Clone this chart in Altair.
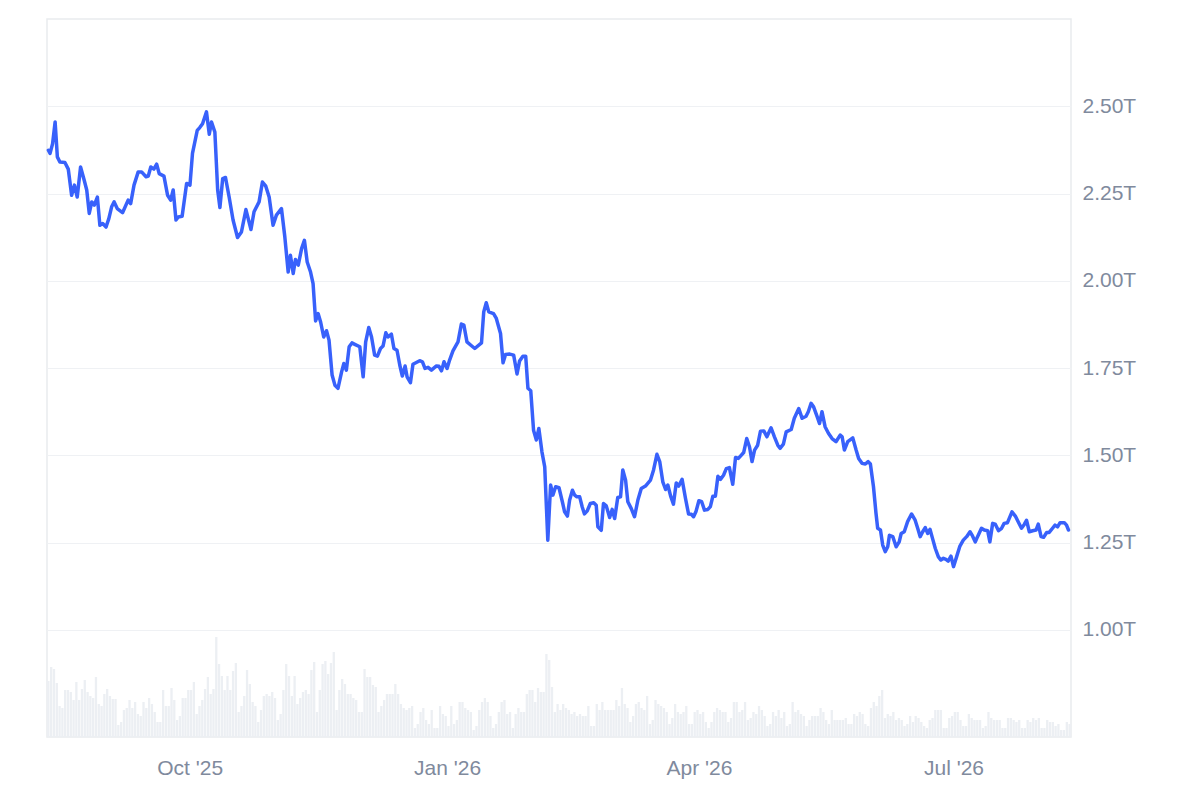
import altair as alt
import pandas as pd

# ---------------- data ----------------
start = pd.Timestamp("2025-08-11")

# day offsets from 2025-08-11 and market cap in trillions USD
line_days = [
    0.5, 1.1, 2.0, 2.9, 3.7, 4.6, 6.4, 7.6, 8.8, 9.8,
    10.8, 12.0, 13.3, 14.2, 15.1, 16.0, 16.9, 18.0, 18.9, 19.9,
    21.1, 22.1, 23.1, 24.0, 25.1, 27.0, 29.0, 29.9, 31.1, 32.6,
    33.8, 35.4, 36.2, 37.1, 38.2, 39.2, 40.1, 41.8, 43.1, 44.2,
    45.1, 46.1, 46.9, 48.3, 49.9, 51.1, 52.0, 53.7, 54.6, 55.6,
    57.0, 58.0, 58.8, 60.0, 61.0, 61.8, 62.8, 63.8, 65.1, 66.5,
    68.1, 69.5, 71.1, 72.9, 74.0, 75.8, 77.0, 78.2, 79.4, 80.8,
    82.0, 83.8, 85.0, 86.2, 87.0, 88.0, 88.8, 89.8,
    91.0, 92.0, 93.0, 94.2, 95.1, 96.0, 96.9, 97.8, 98.9, 99.9,
    100.8, 101.9, 102.9, 104.0, 105.3, 106.1, 107.0, 108.0, 109.0, 110.0,
    111.8, 113.0, 113.9, 115.0, 116.0, 117.1, 118.1, 119.2, 120.1, 121.1,
    121.9, 123.1, 124.0, 125.1, 126.1, 127.0, 128.0, 128.7, 129.9, 130.8,
    132.0, 133.2, 134.2, 135.1, 136.2, 137.4, 139.2, 140.1, 141.0, 141.9,
    143.0, 143.9, 145.1, 146.9, 148.1, 149.0, 150.1, 151.4, 152.9, 155.3,
    156.1, 157.0, 157.9, 159.6, 160.6, 162.1, 163.0, 163.9, 165.4, 166.8,
    168.0, 168.9, 170.1, 171.1, 171.9, 172.9, 173.9, 174.9, 175.8, 176.9,
    177.9, 179.0,
    180.0, 180.8, 181.8, 183.0, 184.2, 185.0, 186.0, 186.8, 187.8, 188.6,
    189.4, 190.4, 191.3, 192.1, 193.1, 194.2, 195.4, 196.3, 196.9, 198.1,
    198.9, 199.9, 201.1, 202.0, 202.9, 204.0, 205.0, 205.8, 206.8, 207.6,
    208.8, 210.0, 211.2, 212.4, 213.9, 215.7, 216.8, 218.0, 219.0, 220.1,
    221.1, 221.9, 222.9, 223.9, 224.9, 225.8, 227.0, 228.2, 229.3, 230.3,
    231.1, 232.0, 233.0, 234.0, 235.0, 236.2, 237.1, 238.0, 238.9, 239.8,
    240.7, 241.8, 242.8, 243.9, 245.1, 246.1, 247.1, 248.1, 249.0, 250.1,
    251.1, 252.0, 252.9, 254.0, 255.0, 256.2, 257.3, 258.8, 260.0, 261.2,
    262.0, 263.2, 264.2, 266.0, 267.1,
    268.7, 269.9, 271.3, 272.1, 273.1, 274.0, 275.3, 276.1, 277.0, 278.1,
    279.3, 280.6, 282.0, 283.5, 284.2, 285.0, 286.2, 288.0, 289.2, 290.1,
    291.3, 292.5, 293.5, 294.3, 295.4, 296.3, 296.9, 297.9, 298.7, 299.6,
    300.5, 301.1, 302.3, 303.5, 304.6, 305.3, 306.4, 307.6, 309.0, 310.3,
    311.2, 312.1, 313.0, 313.9, 314.8, 315.6, 316.5, 317.5, 318.6, 319.5,
    320.4, 321.3, 322.1, 323.1, 324.0, 325.1, 326.3, 327.5, 328.7, 329.9,
    330.8, 331.8, 332.6, 334.0, 335.0, 336.2, 337.0, 338.0, 338.9, 340.1,
    341.2, 342.1, 343.3, 344.9, 346.1, 347.3, 348.3, 349.3, 350.1, 351.1,
    352.3, 353.5, 354.3, 355.3, 356.2, 357.3, 358.2, 359.4, 360.3, 361.2,
    362.1, 363.6, 364.4, 365.1,
]

line_values = [
    2.374, 2.365, 2.393, 2.455, 2.355, 2.34, 2.339, 2.32, 2.245, 2.274,
    2.24, 2.326, 2.288, 2.26, 2.193, 2.226, 2.217, 2.24, 2.159, 2.164,
    2.154, 2.178, 2.212, 2.226, 2.207, 2.195, 2.231, 2.221, 2.274, 2.312,
    2.312, 2.298, 2.30, 2.326, 2.32, 2.334, 2.307, 2.30, 2.245, 2.231,
    2.26, 2.174, 2.183, 2.185, 2.279, 2.274, 2.365, 2.431, 2.439, 2.45,
    2.484, 2.42, 2.455, 2.426, 2.26, 2.21, 2.293, 2.296, 2.24, 2.174,
    2.124, 2.14, 2.204, 2.147, 2.198, 2.226, 2.283, 2.271, 2.24, 2.159,
    2.188, 2.207, 2.126, 2.025, 2.073, 2.021, 2.061, 2.045,
    2.092, 2.116, 2.054, 2.025, 1.992, 1.885, 1.906, 1.882, 1.839, 1.857,
    1.83, 1.73, 1.701, 1.692, 1.739, 1.763, 1.744, 1.811, 1.822, 1.818,
    1.811, 1.725, 1.825, 1.866, 1.839, 1.787, 1.784, 1.806, 1.813, 1.851,
    1.839, 1.847, 1.806, 1.801, 1.758, 1.727, 1.756, 1.725, 1.708, 1.761,
    1.766, 1.771, 1.768, 1.749, 1.752, 1.744, 1.756, 1.755, 1.742, 1.768,
    1.749, 1.773, 1.799, 1.825, 1.876, 1.873, 1.825, 1.816, 1.806, 1.822,
    1.911, 1.937, 1.911, 1.906, 1.892, 1.849, 1.765, 1.789, 1.79, 1.787,
    1.733, 1.77, 1.784, 1.784, 1.692, 1.685, 1.572, 1.544, 1.577, 1.51,
    1.467, 1.257,
    1.415, 1.386, 1.41, 1.407, 1.367, 1.338, 1.326, 1.372, 1.40, 1.386,
    1.381, 1.381, 1.352, 1.332, 1.341, 1.362, 1.364, 1.357, 1.295, 1.285,
    1.362, 1.355, 1.322, 1.345, 1.319, 1.379, 1.381, 1.458, 1.429, 1.367,
    1.348, 1.324, 1.372, 1.405, 1.412, 1.429, 1.458, 1.503, 1.482, 1.424,
    1.402, 1.415, 1.383, 1.36, 1.421, 1.412, 1.431, 1.377, 1.332, 1.331,
    1.324, 1.34, 1.37, 1.367, 1.343, 1.345, 1.353, 1.383, 1.383, 1.44,
    1.431, 1.443, 1.462, 1.465, 1.417, 1.494, 1.491, 1.50, 1.508, 1.548,
    1.524, 1.482, 1.515, 1.529, 1.569, 1.57, 1.553, 1.579, 1.553, 1.529,
    1.52, 1.532, 1.567, 1.574, 1.606,
    1.634, 1.606, 1.612, 1.625, 1.649, 1.639, 1.61, 1.591, 1.625, 1.582,
    1.563, 1.548, 1.539, 1.558, 1.553, 1.515, 1.539, 1.55, 1.515, 1.491,
    1.477, 1.475, 1.482, 1.475, 1.41, 1.334, 1.291, 1.286, 1.243, 1.224,
    1.238, 1.271, 1.267, 1.238, 1.252, 1.276, 1.281, 1.31, 1.332, 1.314,
    1.291, 1.267, 1.281, 1.293, 1.276, 1.288, 1.262, 1.233, 1.209, 1.20,
    1.205, 1.202, 1.197, 1.211, 1.181, 1.209, 1.24, 1.257, 1.267, 1.281,
    1.269, 1.252, 1.267, 1.291, 1.286, 1.284, 1.252, 1.305, 1.303, 1.284,
    1.291, 1.305, 1.307, 1.338, 1.326, 1.307, 1.291, 1.302, 1.314, 1.281,
    1.284, 1.286, 1.303, 1.267, 1.265, 1.279, 1.279, 1.291, 1.30, 1.295,
    1.307, 1.307, 1.30, 1.286,
]

# daily volume (relative units), one bar per day from 2025-08-11
volume_values = [
    56, 70, 68, 54, 31, 29, 47, 47, 45, 37, 55, 37, 48, 57, 45, 41, 39, 60, 33, 31,
    43, 48, 41, 38, 38, 12, 15, 27, 29, 37, 29, 35, 23, 21, 35, 29, 39, 33, 25, 15,
    15, 47, 31, 31, 49, 37, 17, 21, 39, 39, 47, 47, 55, 23, 31, 37, 48, 60, 43, 48,
    100,
    73, 61, 47, 61, 47, 66, 74, 25, 31, 41, 67, 53, 35, 31, 15, 27, 41, 43, 41, 45,
    39, 17, 23, 47, 73, 61, 41, 61, 33, 39, 45, 47, 43, 67, 75, 25, 47, 73, 76, 63,
    74, 85, 27, 47, 58, 53, 43, 43, 39, 37, 25, 25, 68, 60, 60, 52, 50, 25, 31, 37,
    43, 43, 43, 53, 43, 33, 29, 27, 29, 31, 9, 13, 25, 29, 17, 13, 27, 9, 9, 31,
    23, 21, 11, 31, 13, 17, 35, 35, 29, 27, 25, 7, 11, 27, 35, 39, 35, 21, 9, 13,
    25, 35, 37, 23, 25, 9, 23, 29, 25, 25, 43, 47, 47, 35, 49, 45, 45, 83, 77, 50,
    25, 33,
    27, 33, 29, 27, 23, 25, 21, 23, 21, 21, 31, 11, 11, 33, 27, 35, 27, 27, 27, 27,
    37, 31, 49, 33, 29, 15, 21, 33, 35, 29, 27, 41, 13, 17, 37, 33, 31, 29, 25, 13,
    19, 33, 25, 23, 25, 31, 13, 13, 25, 27, 23, 25, 15, 9, 15, 25, 29, 27, 25, 25,
    15, 19, 35, 35, 25, 27, 35, 17, 19, 25, 23, 31, 27, 21, 11, 13, 25, 21, 27, 19,
    25, 11, 13, 35, 25, 27, 23, 21, 11, 17, 21, 21, 21, 29, 25, 17, 13, 27, 17, 17,
    17, 17, 19, 13, 13, 23, 21, 25, 23, 13, 11, 29, 35, 31, 41, 47, 19, 23, 21, 25,
    17, 19, 17, 11, 13, 21, 15, 21, 19, 15, 11, 9, 17, 19, 27, 27, 27, 9, 9, 19,
    21, 25, 25, 17, 11, 11, 23, 19, 17, 17, 17, 9, 11, 25, 19, 17, 17, 17, 9, 9,
    19, 19, 17, 15, 17, 9, 9, 17, 15, 19, 17, 19, 9, 9, 17, 15, 15, 11, 13, 7,
    7, 15, 13,
]

y_ticks = [1.0, 1.25, 1.5, 1.75, 2.0, 2.25, 2.5]

# ---------------- frames ----------------
line_df = pd.DataFrame({
    "date": [start + pd.Timedelta(days=d) for d in line_days],
    "cap": line_values,
})
vol_df = pd.DataFrame({
    "date": [start + pd.Timedelta(days=i, hours=12) for i in range(len(volume_values))],
    "vol": volume_values,
})

FONT = "Liberation Sans"
LABEL = "#808a9d"
GRID = "#eff1f4"

x_enc = alt.X(
    "date:T",
    scale=alt.Scale(domain=[alt.DateTime(year=2025, month=8, date=11),
                            alt.DateTime(year=2026, month=8, date=12)],
                    nice=False, padding=0),
    axis=alt.Axis(
        values=[alt.DateTime(year=2025, month=10, date=1),
                alt.DateTime(year=2026, month=1, date=1),
                alt.DateTime(year=2026, month=4, date=1),
                alt.DateTime(year=2026, month=7, date=1)],
        format="%b '%y", title=None, grid=False, ticks=False, domain=False,
        labelPadding=20, labelFontSize=21, labelColor=LABEL, labelFont=FONT,
    ),
)

bars = alt.Chart(vol_df).mark_bar(color="#eceff3", size=2.3).encode(
    x=x_enc,
    y=alt.Y("vol:Q", scale=alt.Scale(domain=[0, 718], padding=0), axis=None),
)

line = alt.Chart(line_df).mark_line(
    color="#3861fb", strokeWidth=3.5, strokeJoin="round", strokeCap="round"
).encode(
    x=x_enc,
    y=alt.Y(
        "cap:Q",
        scale=alt.Scale(domain=[0.693, 2.75], nice=False, zero=False),
        axis=alt.Axis(
            orient="right", values=y_ticks, title=None,
            labelExpr="format(datum.value, '.2f') + 'T'",
            ticks=False, domain=False, grid=True, gridColor=GRID, gridWidth=1.2,
            labelPadding=11, labelFontSize=21, labelColor=LABEL, labelFont=FONT,
        ),
    ),
)

chart = (
    alt.layer(bars, line)
    .resolve_scale(y="independent")
    .properties(width=1024, height=718,
                padding={"left": 38, "top": 11, "right": 5, "bottom": 5},
                background="white")
    .configure_view(stroke="#e9ebee", strokeWidth=1.5)
)

chart.save("out.html", embed_options={"renderer": "svg", "actions": False})
